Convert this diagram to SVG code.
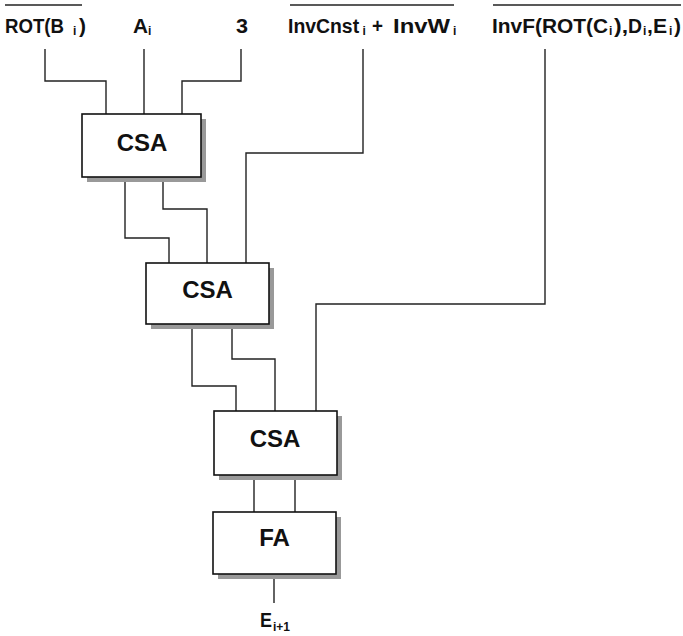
<svg xmlns="http://www.w3.org/2000/svg" width="683" height="636" viewBox="0 0 683 636">
<style>
.w{fill:none;stroke:#222;stroke-width:1.4}
.box{fill:#fff;stroke:#111;stroke-width:1.6}
.sh{fill:#999}
.t{font-family:"Liberation Sans",Arial,sans-serif;font-weight:bold;fill:#111}
.lbl{font-size:21px}
.sub{font-size:12px}
.bt{font-size:24px;text-anchor:middle}
.ov{stroke:#222;stroke-width:1.4}
</style>
<rect width="683" height="636" fill="#fff"/>
<g id="connectors">
<polyline class="w" points="45,49 45,81 106,81 106,114"/>
<polyline class="w" points="144,49 144,114"/>
<polyline class="w" points="241,49 241,81 182,81 182,114"/>
<polyline class="w" points="363,49 363,153 246,153 246,263"/>
<polyline class="w" points="125,177 125,238 169,238 169,263"/>
<polyline class="w" points="163,177 163,209 207,209 207,263"/>
<polyline class="w" points="545,49 545,304 316,304 316,411"/>
<polyline class="w" points="192,324 192,386 236,386 236,411"/>
<polyline class="w" points="232,324 232,359 275,359 275,411"/>
<polyline class="w" points="254,475 254,512"/>
<polyline class="w" points="295,475 295,512"/>
<polyline class="w" points="274,574 274,603"/>
</g>
<g id="in-rotb">
<line class="ov" x1="5" y1="5" x2="82" y2="5"/>
<text class="t lbl" x="5" y="33" textLength="59" lengthAdjust="spacingAndGlyphs">ROT(B</text>
<text class="t sub" x="73" y="35">i</text>
<text class="t lbl" x="79" y="33">)</text>
</g>
<g id="in-a">
<text class="t lbl" x="133" y="33" textLength="15" lengthAdjust="spacingAndGlyphs">A</text>
<text class="t sub" x="148" y="35">i</text>
</g>
<g id="in-3">
<text class="t lbl" x="236" y="33" textLength="12" lengthAdjust="spacingAndGlyphs">3</text>
</g>
<g id="in-invcnst">
<line class="ov" x1="290" y1="5" x2="454" y2="5"/>
<text class="t" x="288" y="33" font-size="19.4">InvCnst</text>
<text class="t sub" x="362.5" y="35">i</text>
<text class="t lbl" x="372" y="33" textLength="11" lengthAdjust="spacingAndGlyphs">+</text>
<text class="t lbl" x="393" y="33" textLength="57" lengthAdjust="spacingAndGlyphs">InvW</text>
<text class="t sub" x="453" y="35">i</text>
</g>
<g id="in-invf">
<line class="ov" x1="493" y1="5" x2="681" y2="5"/>
<text class="t lbl" x="492" y="33" textLength="116" lengthAdjust="spacingAndGlyphs">InvF(ROT(C</text>
<text class="t sub" x="609" y="35">i</text>
<text class="t lbl" x="614" y="33" textLength="14" lengthAdjust="spacingAndGlyphs">),</text>
<text class="t lbl" x="628" y="33" textLength="14" lengthAdjust="spacingAndGlyphs">D</text>
<text class="t sub" x="643" y="35">i</text>
<text class="t lbl" x="647" y="33" textLength="20" lengthAdjust="spacingAndGlyphs">,E</text>
<text class="t sub" x="669" y="35">i</text>
<text class="t lbl" x="674" y="33" textLength="7" lengthAdjust="spacingAndGlyphs">)</text>
</g>
<g id="csa1">
<rect class="sh" x="87" y="119" width="119" height="63"/>
<rect class="box" x="82" y="114" width="119" height="63"/>
<text class="t bt" x="142" y="151">CSA</text>
</g>
<g id="csa2">
<rect class="sh" x="151" y="268" width="123" height="61"/>
<rect class="box" x="146" y="263" width="123" height="61"/>
<text class="t bt" x="207.5" y="298">CSA</text>
</g>
<g id="csa3">
<rect class="sh" x="219" y="416" width="123" height="64"/>
<rect class="box" x="214" y="411" width="123" height="64"/>
<text class="t bt" x="275" y="447">CSA</text>
</g>
<g id="fa">
<rect class="sh" x="218" y="517" width="123" height="62"/>
<rect class="box" x="213" y="512" width="123" height="62"/>
<text class="t bt" x="274.5" y="546">FA</text>
</g>
<g id="out-e">
<text class="t lbl" x="260" y="627" textLength="12" lengthAdjust="spacingAndGlyphs">E</text>
<text class="t sub" x="273" y="631">i+1</text>
</g>
</svg>
